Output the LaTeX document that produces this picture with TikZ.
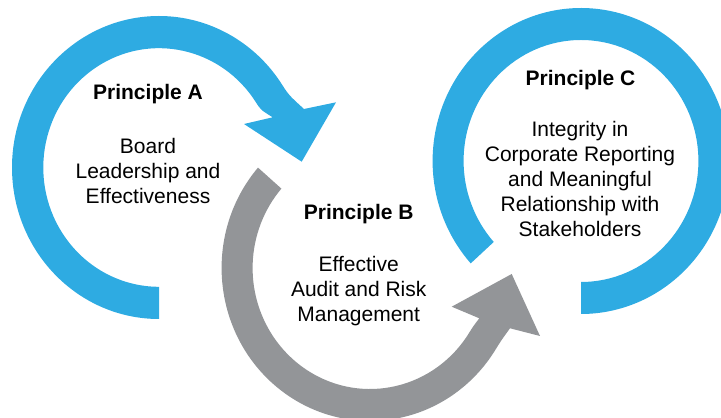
\documentclass[tikz,border=0pt]{standalone}
\usepackage{fontspec}
\setmainfont{Liberation Sans}
\usetikzlibrary{calc}
\definecolor{ringblue}{HTML}{2EABE2}
\definecolor{ringgray}{HTML}{939598}
\tikzset{
  ttl/.style={anchor=base, inner sep=0pt, font=\fontsize{21}{25}\selectfont\bfseries},
  bodytxt/.style={anchor=base, inner sep=0pt, align=center, font=\fontsize{21}{25}\selectfont},
}
\begin{document}
\begin{tikzpicture}[x=1pt,y=1pt]
\useasboundingbox (0,0) rectangle (721,418);
\clip (0,0) rectangle (721,418);
\coordinate (cA) at (159,250.5);
\coordinate (cB) at (370,150);
\coordinate (cC) at (581,257);
% ring A (blue)
\fill[ringblue] ($(cA)+(270:147 and 151.5)$)
  arc[start angle=270, end angle=33, x radius=147, y radius=151.5]
  .. controls (288.8,322.9) .. (304,309)
  -- (336,315.7) -- (301.7,256.3) -- (244,294) -- (272.7,300.7)
  .. controls (260.9,308.0) .. ($(cA)+(33:115.7 and 119.3)$)
  arc[start angle=33, end angle=270, x radius=115.7, y radius=119.3] -- cycle;
% ring B (gray)
\fill[ringgray] ($(cB)+(139:148.4 and 153)$)
  arc[start angle=139, end angle=328, x radius=148.4, y radius=153]
  .. controls (501.1,77.4) .. (510,89.7)
  -- (540,82) -- (511.7,144) -- (451.7,111.3) -- (479.3,99.7)
  .. controls (473.3,91.8) .. ($(cB)+(328:117.4 and 121)$)
  arc[start angle=328, end angle=139, x radius=117.4, y radius=121] -- cycle;
% ring C (blue)
\fill[ringblue] ($(cC)+(222:148.4 and 153)$)
  arc[start angle=222, end angle=-90, x radius=148.4, y radius=153]
  -- ($(cC)+(-90:117.4 and 121)$)
  arc[start angle=-90, end angle=222, x radius=117.4, y radius=121] -- cycle;
% texts (body nodes anchored at the baseline of their last line)
\node[ttl] (tA) at (148,318) {Principle A};
\node[bodytxt] (bA) at (148,214.7) {Board\\Leadership and\\Effectiveness};
\node[ttl] (tB) at (358.7,198) {Principle B};
\node[bodytxt] (bB) at (358.7,96.3) {Effective\\Audit and Risk\\Management};
\node[ttl] (tC) at (580.5,332) {Principle C};
\node[bodytxt] (bC) at (580,181) {Integrity in\\Corporate Reporting\\and Meaningful\\Relationship with\\Stakeholders};
\end{tikzpicture}
\end{document}
